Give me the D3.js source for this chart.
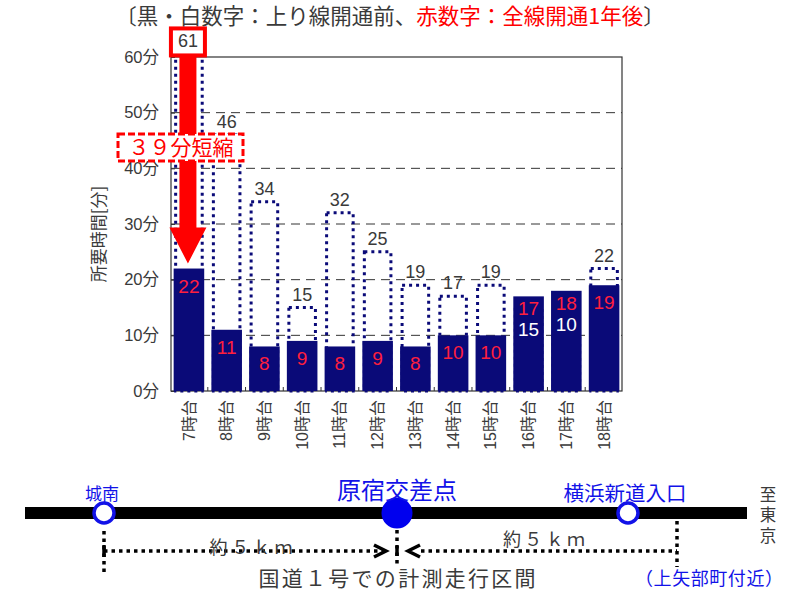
<!DOCTYPE html>
<html>
<head>
<meta charset="utf-8">
<script src="https://cdn.jsdelivr.net/npm/d3@7"></script>
<style>
  html, body { margin: 0; padding: 0; background: #fff; }
  svg { display: block; }
</style>
</head>
<body>
<script>
// Travel time on Route 1 by departure hour (minutes)
const categories = ["7時台", "8時台", "9時台", "10時台", "11時台", "12時台",
                    "13時台", "14時台", "15時台", "16時台", "17時台", "18時台"];
const beforeMinutes = [61, 46, 34, 15, 32, 25, 19, 17, 19, 15, 10, 22]; // before up-line opening
const afterMinutes  = [22, 11, 8, 9, 8, 9, 8, 10, 10, 17, 18, 19];      // one year after full opening
const yTicks = [0, 10, 20, 30, 40, 50, 60];
const yTickLabels = ["0分", "10分", "20分", "30分", "40分", "50分", "60分"];

const W = 799, H = 591;
const NAVY = "#0a0a78", RED = "#ff0000", LABEL_RED = "#ff1f3d", GRAY = "#3a3a3a", BLUE = "#1212e8";
const FONT = "'Liberation Sans', 'Noto Sans CJK JP', sans-serif";
const JFONT = "'Noto Sans CJK JP', sans-serif";

const svg = d3.select("body").append("svg")
  .attr("width", W).attr("height", H)
  .style("font-family", FONT);

// ---- title ----
const title = svg.append("text")
  .attr("x", 390).attr("y", 24)
  .attr("text-anchor", "middle")
  .attr("font-size", 21.5)
  .attr("font-family", JFONT)
  .attr("fill", GRAY);
title.append("tspan").text("〔黒・白数字：上り線開通前、");
title.append("tspan").attr("fill", RED).text("赤数字：全線開通1年後");
title.append("tspan").text("〕");

// ---- scales ----
const plot = { left: 171, right: 622, top: 57, bottom: 391 };
const x = d3.scaleBand().domain(categories)
  .range([plot.left, plot.right])
  .paddingInner(0.19).paddingOuter(0.07);
const y = d3.scaleLinear().domain([0, 60]).range([plot.bottom, plot.top]);
const bw = x.bandwidth();

// ---- gridlines ----
svg.append("g").selectAll("line")
  .data(yTicks.filter(t => t > 0 && t < 60))
  .join("line")
  .attr("x1", plot.left).attr("x2", plot.right)
  .attr("y1", d => y(d)).attr("y2", d => y(d))
  .attr("stroke", "#333").attr("stroke-width", 1)
  .attr("stroke-dasharray", "9,6");

// ---- frame ----
svg.append("rect")
  .attr("x", plot.left).attr("y", plot.top)
  .attr("width", plot.right - plot.left).attr("height", plot.bottom - plot.top)
  .attr("fill", "none").attr("stroke", "#333").attr("stroke-width", 1.2);

// ---- y axis ----
const yAxis = d3.axisLeft(y).tickValues(yTicks)
  .tickFormat((d, i) => yTickLabels[i])
  .tickSize(-4).tickPadding(12);
const ya = svg.append("g").attr("transform", `translate(${plot.left},0)`).call(yAxis);
ya.select(".domain").remove();
ya.selectAll(".tick line").attr("stroke", "#333");
ya.selectAll(".tick text")
  .attr("font-size", 16.5).attr("fill", GRAY)
  .attr("font-family", FONT);

svg.append("text")
  .attr("transform", "translate(105,234) rotate(-90)")
  .attr("text-anchor", "middle")
  .attr("font-size", 17).attr("fill", GRAY)
  .attr("font-family", JFONT)
  .text("所要時間[分]");

// ---- x axis ----
const step = x.step();
const xAxis = d3.axisBottom(x).tickSize(0).tickPadding(0);
const xa = svg.append("g").attr("transform", `translate(0,${plot.bottom})`).call(xAxis);
xa.select(".domain").remove();
xa.selectAll(".tick text")
  .attr("transform", "translate(0,9) rotate(-90)")
  .attr("text-anchor", "end")
  .attr("dy", "0.35em")
  .attr("x", 0).attr("y", 0)
  .attr("font-size", 16).attr("fill", GRAY)
  .attr("font-family", FONT);
// small upward ticks between categories
svg.append("g").selectAll("line")
  .data(categories.slice(1))
  .join("line")
  .attr("x1", d => x(d) - (step - bw) / 2).attr("x2", d => x(d) - (step - bw) / 2)
  .attr("y1", plot.bottom).attr("y2", plot.bottom - 4)
  .attr("stroke", "#333");

// ---- "before" bars: dotted outlines ----
svg.append("g").selectAll("rect")
  .data(categories)
  .join("rect")
  .attr("x", d => x(d) + 2)
  .attr("y", (d, i) => y(beforeMinutes[i]))
  .attr("width", bw - 4)
  .attr("height", (d, i) => y(0) - y(beforeMinutes[i]))
  .attr("fill", "none")
  .attr("stroke", NAVY).attr("stroke-width", 3)
  .attr("stroke-dasharray", "3,4");

// ---- "after" bars: solid ----
svg.append("g").selectAll("rect")
  .data(categories)
  .join("rect")
  .attr("x", d => x(d))
  .attr("y", (d, i) => y(afterMinutes[i]))
  .attr("width", bw)
  .attr("height", (d, i) => y(0) - y(afterMinutes[i]))
  .attr("fill", NAVY);

const both = categories.map((c, i) => ({ c, b: beforeMinutes[i], a: afterMinutes[i] }));
const first = both[0];

// ---- reduction annotation on the first hour (drawn under the labels) ----
const cx0 = x(first.c) + bw / 2 - 1;
const labelBase = d => y(d.b) - (d === first ? 4 : 7);
const boxTop = labelBase(first) - 19;
const boxBottom = boxTop + 27;

// red arrow from the boxed "before" value down to the "after" bar
const tipY = y(first.a) - 5;
const headBase = tipY - 36;
svg.append("path")
  .attr("d", `M${cx0 - 8.5},${boxBottom} L${cx0 + 8.5},${boxBottom} L${cx0 + 8.5},${headBase}
              L${cx0 + 18.5},${headBase} L${cx0},${tipY} L${cx0 - 18.5},${headBase}
              L${cx0 - 8.5},${headBase} Z`)
  .attr("fill", RED);

// box around the largest "before" value
svg.append("rect")
  .attr("x", cx0 - 17).attr("y", boxTop)
  .attr("width", 34).attr("height", 27)
  .attr("fill", "#fff").attr("stroke", RED).attr("stroke-width", 4);

// dashed callout with the saved minutes
const toFull = s => String(s).replace(/[0-9]/g, ch => String.fromCharCode(ch.charCodeAt(0) + 0xFEE0));
svg.append("rect")
  .attr("x", 118).attr("y", 134).attr("width", 125).attr("height", 27)
  .attr("fill", "#fff").attr("stroke", RED).attr("stroke-width", 3)
  .attr("stroke-dasharray", "7,3");
svg.append("text")
  .attr("x", 181).attr("y", 155)
  .attr("text-anchor", "middle")
  .attr("font-size", 21).attr("fill", RED)
  .attr("font-family", JFONT)
  .text(toFull(first.b - first.a) + "分短縮");

// ---- value labels ----
// before values above dotted bars
svg.append("g").selectAll("text")
  .data(both.filter(d => d.b > d.a))
  .join("text")
  .attr("x", d => x(d.c) + bw / 2 - (d === first ? 1 : 0))
  .attr("y", labelBase)
  .attr("text-anchor", "middle")
  .attr("font-size", 18).attr("fill", GRAY)
  .text(d => d.b);

// after values in red inside solid bars
svg.append("g").selectAll("text")
  .data(both)
  .join("text")
  .attr("x", d => x(d.c) + bw / 2)
  .attr("y", d => y(d.a) + (d.b > d.a ? 24 : 19))
  .attr("text-anchor", "middle")
  .attr("font-size", 19).attr("fill", LABEL_RED)
  .text(d => d.a);

// before values hidden behind taller after bars: white, inside
svg.append("g").selectAll("text")
  .data(both.filter(d => d.b <= d.a))
  .join("text")
  .attr("x", d => x(d.c) + bw / 2)
  .attr("y", d => y(d.a) + 40)
  .attr("text-anchor", "middle")
  .attr("font-size", 19).attr("fill", "#fff")
  .text(d => d.b);

// ---- route diagram ----
const route = svg.append("g").attr("font-family", JFONT);
const roadY = 513;
route.append("line")
  .attr("x1", 25).attr("x2", 747).attr("y1", roadY).attr("y2", roadY)
  .attr("stroke", "#000").attr("stroke-width", 12);

// measurement guides
const dotted = (x1, y1, x2, y2) => route.append("line")
  .attr("x1", x1).attr("y1", y1).attr("x2", x2).attr("y2", y2)
  .attr("stroke", "#000").attr("stroke-width", 3.5)
  .attr("stroke-dasharray", "3.5,4");
const lineY = 551;
dotted(104, 531, 104, 573);
dotted(104, lineY, 384, lineY);
dotted(421, lineY, 677, lineY);
dotted(677, 521, 677, 567);
dotted(397, 530, 397, 565);
route.append("line").attr("x1", 104).attr("x2", 104).attr("y1", 545).attr("y2", 557)
  .attr("stroke", "#000").attr("stroke-width", 3.5);
route.append("line").attr("x1", 397).attr("x2", 397).attr("y1", 546).attr("y2", 556)
  .attr("stroke", "#000").attr("stroke-width", 3.5);
// chevrons meeting at the centre point
route.append("path").attr("d", `M374,${lineY - 6} L386,${lineY} L374,${lineY + 6}`)
  .attr("fill", "none").attr("stroke", "#000").attr("stroke-width", 3.5);
route.append("path").attr("d", `M420,${lineY - 6} L408,${lineY} L420,${lineY + 6}`)
  .attr("fill", "none").attr("stroke", "#000").attr("stroke-width", 3.5);

// stations
route.append("circle").attr("cx", 104).attr("cy", roadY).attr("r", 10)
  .attr("fill", "#fff").attr("stroke", BLUE).attr("stroke-width", 3.5);
route.append("circle").attr("cx", 628).attr("cy", roadY).attr("r", 10)
  .attr("fill", "#fff").attr("stroke", BLUE).attr("stroke-width", 3.5);
route.append("circle").attr("cx", 397).attr("cy", roadY).attr("r", 15.5)
  .attr("fill", "#0000ee");

route.append("text").attr("x", 102).attr("y", 500).attr("text-anchor", "middle")
  .attr("font-size", 17).attr("fill", BLUE).text("城南");
route.append("text").attr("x", 397).attr("y", 499).attr("text-anchor", "middle")
  .attr("font-size", 24).attr("fill", BLUE).text("原宿交差点");
route.append("text").attr("x", 625).attr("y", 501).attr("text-anchor", "middle")
  .attr("font-size", 20.5).attr("fill", BLUE).text("横浜新道入口");

// destination, written vertically
route.append("text")
  .attr("x", 768).attr("y", 486)
  .style("writing-mode", "vertical-rl")
  .attr("font-size", 16.5).attr("letter-spacing", 4)
  .attr("fill", GRAY).text("至東京");

route.append("text").attr("x", 251).attr("y", 554).attr("text-anchor", "middle")
  .attr("font-size", 18).attr("fill", GRAY).attr("textLength", 83).text("約５ｋｍ");
route.append("text").attr("x", 544).attr("y", 546).attr("text-anchor", "middle")
  .attr("font-size", 18).attr("fill", GRAY).attr("textLength", 82).text("約５ｋｍ");
route.append("text").attr("x", 397).attr("y", 586).attr("text-anchor", "middle")
  .attr("font-size", 21).attr("fill", GRAY).attr("textLength", 277).text("国道１号での計測走行区間");
route.append("text").attr("x", 709).attr("y", 585).attr("text-anchor", "middle")
  .attr("font-size", 18).attr("fill", BLUE).attr("textLength", 148).text("（上矢部町付近）");
</script>
</body>
</html>
